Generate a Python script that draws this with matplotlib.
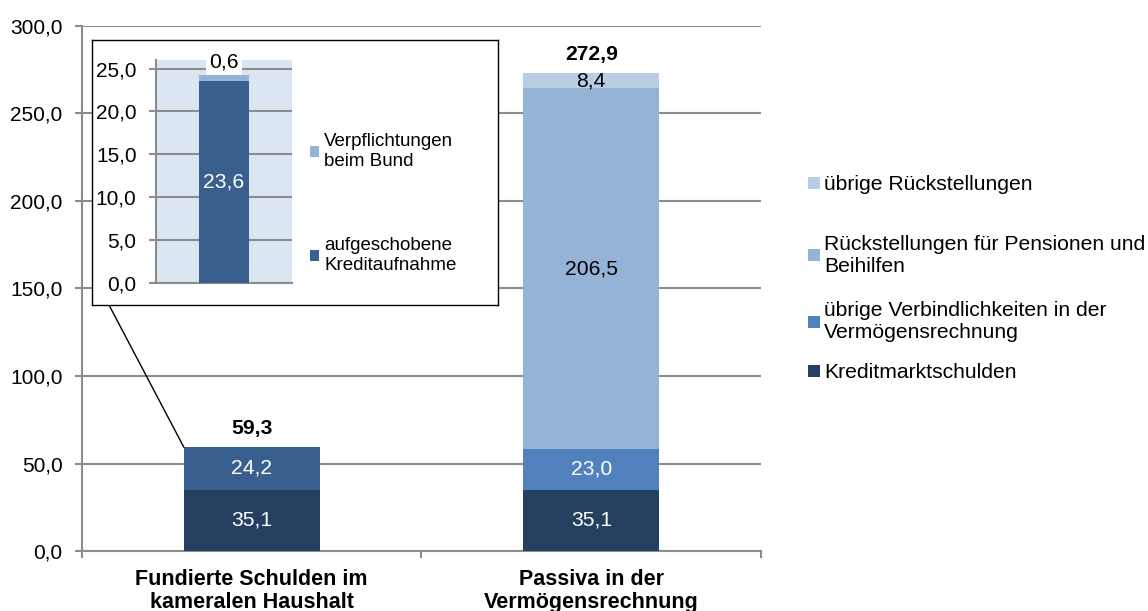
import matplotlib
matplotlib.use("Agg")
import matplotlib.pyplot as plt
from matplotlib.patches import Patch, ConnectionPatch
import numpy as np

plt.rcParams['font.family'] = ['Liberation Sans', 'DejaVu Sans']

# ---------------- data ----------------
categories = ["Fundierte Schulden im\nkameralen Haushalt",
              "Passiva in der\nVermögensrechnung"]
kredit = [35.1, 35.1]                 # Kreditmarktschulden
aufgeschoben_total = [24.2, 0.0]      # (bar 1 upper segment)
uebrige_verb = [0.0, 23.0]
pensionen = [0.0, 206.5]
uebrige_rueck = [0.0, 8.4]
totals = [59.3, 272.9]

inset_aufgeschoben = [23.6]
inset_bund = [0.6]

y_ticks = [0, 50, 100, 150, 200, 250, 300]
inset_ticks = [0, 5, 10, 15, 20, 25]

legend_labels = ["übrige Rückstellungen",
                 "Rückstellungen für Pensionen und\nBeihilfen",
                 "übrige Verbindlichkeiten in der\nVermögensrechnung",
                 "Kreditmarktschulden"]
inset_labels = ["Verpflichtungen\nbeim Bund", "aufgeschobene\nKreditaufnahme"]

# colours
c_kredit = "#253f61"
c_aufg = "#395f8e"
c_verb = "#5081bd"
c_pens = "#95b3d7"
c_rueck = "#b9cde5"
c_grid = "#8c8c8c"

def fmt(v):
    return f"{v:.1f}".replace(".", ",")

W, H = 1148, 611
fig = plt.figure(figsize=(W / 100, H / 100), dpi=100)

def px_rect(l, t, r, b):
    return [l / W, 1 - b / H, (r - l) / W, (b - t) / H]

FS = 15.2
FS_TICK = 15
FS_IN = 13.5

# ---------------- main axes ----------------
ax = fig.add_axes(px_rect(82, 26, 761, 551))
ax.set_zorder(0)
x = np.arange(len(categories))
bw = 0.4
b1 = ax.bar(x, kredit, bw, color=c_kredit, zorder=3)
bottom = np.array(kredit)
b2 = ax.bar(x, aufgeschoben_total, bw, bottom=bottom, color=c_aufg, zorder=3)
bottom = bottom + np.array(aufgeschoben_total)
b3 = ax.bar(x, uebrige_verb, bw, bottom=bottom, color=c_verb, zorder=3)
bottom = bottom + np.array(uebrige_verb)
b4 = ax.bar(x, pensionen, bw, bottom=bottom, color=c_pens, zorder=3)
bottom = bottom + np.array(pensionen)
b5 = ax.bar(x, uebrige_rueck, bw, bottom=bottom, color=c_rueck, zorder=3)

# segment labels
def seg_labels(container, vals, color):
    for rect, v in zip(container, vals):
        if v <= 0:
            continue
        ax.text(rect.get_x() + rect.get_width() / 2,
                rect.get_y() + rect.get_height() / 2,
                fmt(v), ha="center", va="center", color=color,
                fontsize=FS, zorder=4)

seg_labels(b1, kredit, "white")
seg_labels(b2, aufgeschoben_total, "white")
seg_labels(b3, uebrige_verb, "white")
seg_labels(b4, pensionen, "black")
seg_labels(b5, uebrige_rueck, "black")

for xi, t in zip(x, totals):
    ax.annotate(fmt(t), (xi, t), xytext=(0, 7), textcoords="offset points",
                ha="center", va="bottom", fontsize=FS, fontweight="bold",
                zorder=4)

ax.set_xlim(-0.5, 1.5)
ax.set_ylim(0, 300)
ax.set_yticks(y_ticks)
ax.set_yticklabels([fmt(v) for v in y_ticks], fontsize=FS_TICK)
ax.yaxis.grid(True, color=c_grid, linewidth=1.5, zorder=0)
ax.set_axisbelow(True)
ax.set_xticks(x)
ax.set_xticklabels(categories, fontsize=FS + 0.3, fontweight="bold",
                   linespacing=1.1)
ax.tick_params(axis="x", length=0, pad=13)
ax.set_xticks([-0.5, 0.5, 1.5], minor=True)
ax.tick_params(axis="x", which="minor", length=5, width=1.5, color=c_grid,
               direction="out")
ax.tick_params(axis="y", length=5, width=1.5, color=c_grid, pad=9)
for s in ["top", "right"]:
    ax.spines[s].set_visible(False)
for s in ["left", "bottom"]:
    ax.spines[s].set_color(c_grid)
    ax.spines[s].set_linewidth(1.5)

# ---------------- main legend (manual placement per entry) ----------------
leg_colors = [c_rueck, c_pens, c_verb, c_kredit]
leg_y = [185, 255, 322, 373]
for lab, col, yy in zip(legend_labels, leg_colors, leg_y):
    fig.legend(handles=[Patch(facecolor=col, edgecolor="none")],
               labels=[lab], loc="center left",
               bbox_to_anchor=(808 / W, 1 - yy / H),
               frameon=False, fontsize=FS, handlelength=0.55,
               handleheight=0.55, handletextpad=0.2, borderpad=0,
               borderaxespad=0)

# ---------------- inset frame ----------------
frame = fig.add_axes(px_rect(92, 40, 498, 305))
frame.set_zorder(2)
frame.set_xticks([])
frame.set_yticks([])
frame.patch.set_facecolor("white")
for s in frame.spines.values():
    s.set_color("black")
    s.set_linewidth(1.0)

# ---------------- inset axes ----------------
iax = fig.add_axes(px_rect(156, 60, 292, 283))
iax.set_zorder(3)
iax.patch.set_facecolor("#dce6f2")
ib1 = iax.bar([0], inset_aufgeschoben, 0.37, color=c_aufg, zorder=3)
ib2 = iax.bar([0], inset_bund, 0.37, bottom=inset_aufgeschoben,
              color=c_pens, zorder=3)
iax.set_xlim(-0.5, 0.5)
iax.set_ylim(0, 26)
iax.set_yticks(inset_ticks)
iax.set_yticklabels([fmt(v) for v in inset_ticks], fontsize=FS_TICK)
iax.yaxis.grid(True, color=c_grid, linewidth=1.5, zorder=0)
iax.set_axisbelow(True)
iax.set_xticks([])
iax.tick_params(axis="y", length=5, width=1.5, color=c_grid, pad=9)
for s in ["top", "right"]:
    iax.spines[s].set_visible(False)
for s in ["left", "bottom"]:
    iax.spines[s].set_color(c_grid)
    iax.spines[s].set_linewidth(1.5)

r = ib1[0]
iax.text(r.get_x() + r.get_width() / 2, r.get_height() / 2,
         fmt(inset_aufgeschoben[0]), ha="center", va="center",
         color="white", fontsize=FS, zorder=4)
iax.text(0, 25.8, fmt(inset_bund[0]), ha="center", va="center",
         fontsize=FS, zorder=5, clip_on=False,
         bbox=dict(facecolor="white", edgecolor="none", pad=2.5))

iax.legend(handles=[Patch(facecolor=c_pens, edgecolor="none"),
                    Patch(facecolor=c_aufg, edgecolor="none")],
           labels=inset_labels, loc="center left",
           bbox_to_anchor=((310 - 156) / 136, (283 - 203.5) / 223),
           frameon=False, fontsize=FS_IN, handlelength=0.5,
           handleheight=0.5, handletextpad=0.25, labelspacing=3.6,
           borderpad=0, borderaxespad=0)

# connector line from inset frame to bar 1 top-left
con = ConnectionPatch(xyA=(109 / W, 1 - 305 / H), coordsA="figure fraction",
                      xyB=(x[0] - bw / 2, totals[0]), coordsB=ax.transData,
                      color="black", linewidth=1.0)
fig.add_artist(con)

fig.savefig("out.png", dpi=100)
